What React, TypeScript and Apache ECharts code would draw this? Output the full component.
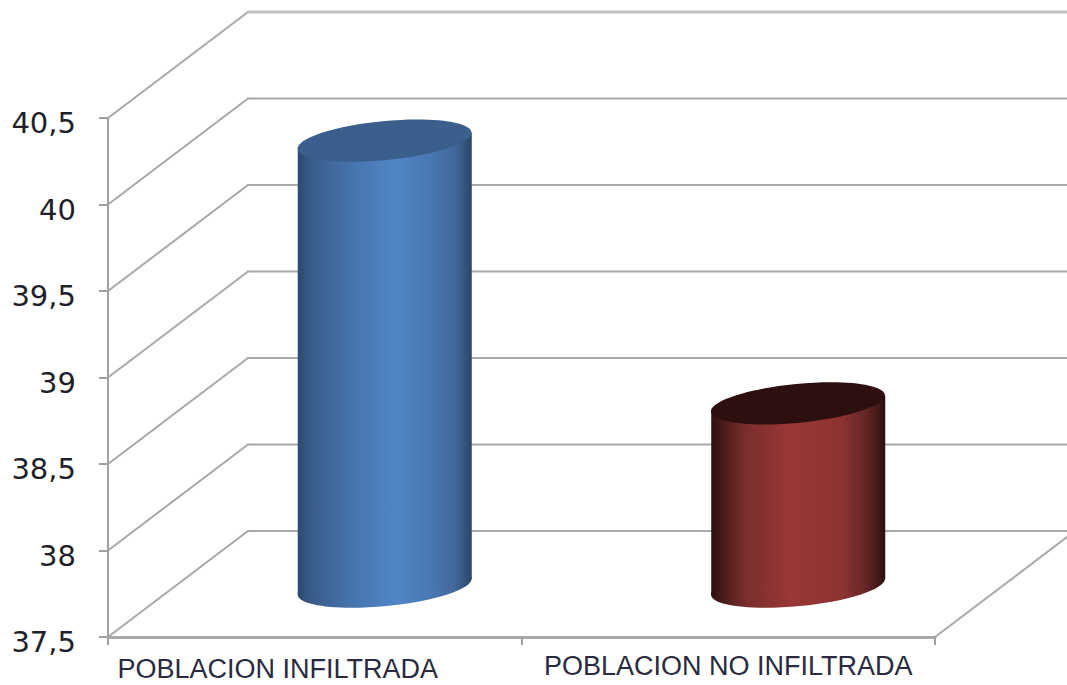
import React, { useEffect, useRef } from "react";
import * as echarts from "echarts";

const categories = ["POBLACION INFILTRADA", "POBLACION NO INFILTRADA"];
const values = [40.08, 38.56];
const wallTicks = [37.5, 38, 38.5, 39, 39.5, 40, 40.5];

const DEPTH_X = 140;
const DEPTH_Y = 106;
const BAR_X = 70;
const BAR_Y = 50;
const RX = 87.4;
const RY = 19.5;
const TILT = 5.5;
const tiltRad = (TILT * Math.PI) / 180;
const EDGE_X = Math.sqrt(RX * RX * Math.cos(tiltRad) ** 2 + RY * RY * Math.sin(tiltRad) ** 2);
const EDGE_Y = ((RX * RX - RY * RY) * Math.sin(tiltRad) * Math.cos(tiltRad)) / EDGE_X;

const sideStops = [
  [
    [0, "#2c4a70"], [0.1, "#3a5f8e"], [0.3, "#4673ac"], [0.55, "#5085c5"],
    [0.75, "#4a79b4"], [0.9, "#40689b"], [1, "#2b4566"],
  ],
  [
    [0, "#2c0f0f"], [0.08, "#4f1e1e"], [0.2, "#7a2e2d"], [0.45, "#983736"],
    [0.75, "#8c3332"], [0.9, "#5e2524"], [1, "#2c0f0f"],
  ],
];
const topColors = ["#3a5f8c", "#2e0f0f"];

function renderWall(params: any, api: any) {
  const v = api.value(1);
  const y = api.coord([0, v])[1];
  const cs = params.coordSys;
  const x0 = cs.x;
  const top = params.dataIndex === wallTicks.length - 1;
  const children: any[] = [
    {
      type: "line",
      shape: { x1: x0, y1: y, x2: x0 + DEPTH_X, y2: y - DEPTH_Y },
      style: { stroke: "#a8a8a8", lineWidth: 2 },
    },
    {
      type: "line",
      shape: { x1: x0 + DEPTH_X - 1, y1: y - DEPTH_Y, x2: x0 + cs.width + DEPTH_X, y2: y - DEPTH_Y },
      style: { stroke: top ? "#c2c2c2" : "#a8a8a8", lineWidth: top ? 3 : 2 },
    },
  ];
  if (params.dataIndex === 0) {
    children.push({
      type: "line",
      shape: { x1: x0 + cs.width, y1: y, x2: x0 + cs.width + DEPTH_X, y2: y - DEPTH_Y },
      style: { stroke: "#a8a8a8", lineWidth: 2 },
    });
  }
  return { type: "group", children };
}

function tiltedEllipse(cx: number, cy: number, fill: any) {
  return {
    type: "ellipse",
    shape: { cx, cy, rx: RX, ry: RY },
    rotation: tiltRad,
    originX: cx,
    originY: cy,
    style: { fill },
  };
}

function renderCylinder(params: any, api: any) {
  const idx = api.value(0);
  const top = api.coord([idx, api.value(1)]);
  const cs = params.coordSys;
  const cx = top[0] + BAR_X;
  const ty = top[1] - BAR_Y;
  const by = cs.y + cs.height - BAR_Y;
  const lx = cx - EDGE_X;
  const rx = cx + EDGE_X;
  const stops = sideStops[idx].map(([offset, color]) => ({ offset, color }));
  const gradient = () => new echarts.graphic.LinearGradient(0, 0, 1, 0, stops as any);
  return {
    type: "group",
    children: [
      tiltedEllipse(cx, by, gradient()),
      {
        type: "polygon",
        shape: {
          points: [
            [lx, ty + EDGE_Y],
            [lx, by + EDGE_Y],
            [rx, by - EDGE_Y],
            [rx, ty - EDGE_Y],
          ],
        },
        style: { fill: gradient() },
      },
      tiltedEllipse(cx, ty, topColors[idx]),
    ],
  };
}

export default function App() {
  const ref = useRef<HTMLDivElement>(null);
  useEffect(() => {
    document.body.style.margin = "0";
    const chart = echarts.init(ref.current!, null, { renderer: "svg" });
    chart.setOption({
      animation: false,
      backgroundColor: "#ffffff",
      grid: { left: 108, right: 132, top: 118, bottom: 48 },
      xAxis: {
        type: "category",
        data: categories,
        axisLine: { lineStyle: { color: "#a8a8a8", width: 3 } },
        axisTick: { show: true, length: 8, lineStyle: { color: "#a0a0a0", width: 2 } },
        axisLabel: {
          interval: 0,
          margin: 15,
          color: "#2a2a40",
          fontFamily: "Liberation Sans",
          fontSize: 27,
          formatter: (v: string, i: number) => `{${i === 0 ? "a" : "b"}|${v}}`,
          rich: {
            a: { fontFamily: "Liberation Sans", fontSize: 27, color: "#2a2a40", padding: [3, 74, 0, 0] },
            b: { fontFamily: "Liberation Sans", fontSize: 27, color: "#2a2a40", padding: [0, 0, 0, 0] },
          },
        },
      },
      yAxis: {
        type: "value",
        min: 37.5,
        max: 40.5,
        interval: 0.5,
        splitLine: { show: false },
        axisLine: { show: true, lineStyle: { color: "#a0a0a0", width: 2 } },
        axisTick: { show: true, length: 9, lineStyle: { color: "#a0a0a0", width: 2 } },
        axisLabel: {
          margin: 32,
          formatter: (v: number) => `{v|${String(v).replace(".", ",")}}`,
          rich: {
            v: {
              fontFamily: "DejaVu Sans",
              fontSize: 29,
              color: "#1f1f2a",
              padding: [10, 0, 0, 0],
            },
          },
        },
      },
      series: [
        {
          type: "custom",
          silent: true,
          z: 1,
          renderItem: renderWall,
          data: wallTicks.map((t) => [0, t]),
          encode: { x: 0, y: 1 },
        },
        {
          type: "custom",
          silent: true,
          z: 3,
          renderItem: renderCylinder,
          data: values.map((v, i) => [i, v]),
          encode: { x: 0, y: 1 },
        },
      ],
    });
    return () => chart.dispose();
  }, []);
  return <div ref={ref} style={{ width: 1067, height: 685, display: "block" }} />;
}
